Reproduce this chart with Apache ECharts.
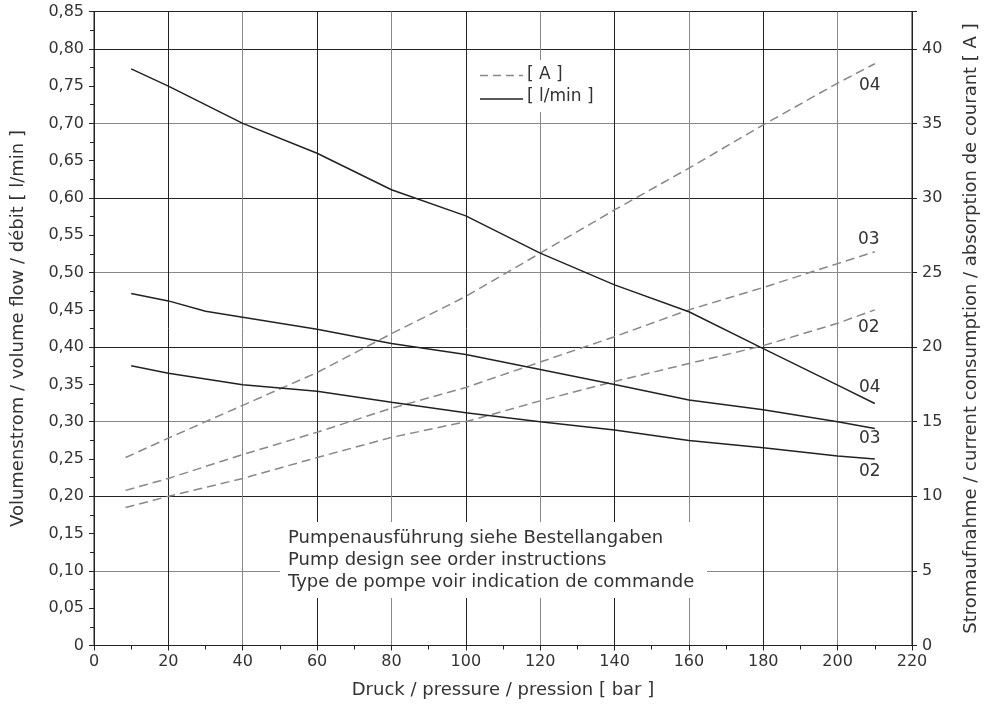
<!DOCTYPE html>
<html>
<head>
<meta charset="utf-8">
<script src="https://cdn.jsdelivr.net/npm/echarts@6/dist/echarts.min.js"></script>
<style>
html,body{margin:0;padding:0;background:#fff;}
#chart{width:985px;height:706px;}
</style>
</head>
<body>
<div id="chart"></div>
<script>
// ---- data ----
const flowX = [10, 20, 40, 60, 80, 100, 120, 140, 160, 180, 200, 210];
const flow03X = [10, 20, 30, 40, 60, 80, 100, 120, 140, 160, 180, 200, 210];
const flow04 = [0.773, 0.750, 0.700, 0.660, 0.611, 0.576, 0.526, 0.4835, 0.4475, 0.398, 0.349, 0.3245];
const flow03 = [0.472, 0.462, 0.448, 0.440, 0.424, 0.405, 0.390, 0.370, 0.350, 0.329, 0.316, 0.300, 0.291];
const flow02 = [0.375, 0.365, 0.3495, 0.341, 0.326, 0.312, 0.300, 0.289, 0.275, 0.265, 0.254, 0.250];
const currentX = [8.5, 20, 40, 60, 80, 100, 120, 140, 160, 180, 200, 210];
const current04 = [12.6, 13.9, 16.1, 18.3, 20.9, 23.4, 26.3, 29.2, 32.0, 34.9, 37.7, 39.0];
const current03 = [10.4, 11.2, 12.8, 14.3, 15.9, 17.3, 19.0, 20.7, 22.5, 24.0, 25.6, 26.4];
const current02 = [9.25, 10.0, 11.2, 12.6, 13.95, 15.0, 16.4, 17.7, 18.9, 20.1, 21.6, 22.5];
const curveLabels = ['04', '03', '02'];
const xTitle = 'Druck / pressure / pression [ bar ]';
const yLeftTitle = 'Volumenstrom / volume flow / débit [ l/min ]';
const yRightTitle = 'Stromaufnahme / current consumption / absorption de courant [ A ]';
const legendA = '[ A ]';
const legendFlow = '[ l/min ]';
const noteLines = ['Pumpenausführung siehe Bestellangaben', 'Pump design see order instructions', 'Type de pompe voir indication de commande'];

const FONT = 'DejaVu Sans';
const TXT = '#333';
const DARK = '#222';
const GRAY = '#888';
const T = 'rgba(0,0,0,0)';

function zip(xs, ys) { return xs.map((x, i) => [x, ys[i]]); }

function labelPoint(data, text, offset) {
  const last = data[data.length - 1];
  return {
    symbol: 'circle', symbolSize: 1, silent: true, animation: false,
    itemStyle: { color: T },
    label: { show: true, position: 'inside', formatter: text, color: TXT, fontSize: 17, fontFamily: FONT, offset: offset },
    data: [{ coord: last }]
  };
}

const d04 = zip(currentX, current04), d03 = zip(currentX, current03), d02 = zip(currentX, current02);
const f04 = zip(flowX, flow04), f03 = zip(flow03X, flow03), f02 = zip(flowX, flow02);

const dashedStyle = { color: GRAY, width: 1.5, type: [9, 5] };
const solidStyle = { color: DARK, width: 1.5 };

function mkSeries(data, yIdx, style, mp) {
  return { type: 'line', data: data, yAxisIndex: yIdx, showSymbol: false, symbol: 'none',
    lineStyle: style, itemStyle: { color: style.color }, animation: false, silent: true, z: 5, markPoint: mp };
}

const chart = echarts.init(document.getElementById('chart'), null, { renderer: 'canvas' });
chart.setOption({
  backgroundColor: '#fff',
  animation: false,
  grid: { left: 94, top: 11.5, width: 818, height: 634, show: true, borderColor: DARK, borderWidth: 1,
    containLabel: false, outerBoundsMode: 'none' },
  xAxis: {
    type: 'value', min: 0, max: 220, interval: 20,
    name: xTitle, nameLocation: 'middle', nameGap: 36,
    nameTextStyle: { color: TXT, fontSize: 18, fontFamily: FONT },
    axisLine: { show: true, lineStyle: { color: DARK, width: 1 } },
    axisTick: { show: true, inside: false, length: 5, lineStyle: { color: DARK } },
    minorTick: { show: true, splitNumber: 2, length: 4, lineStyle: { color: DARK } },
    axisLabel: { color: TXT, fontSize: 16, fontFamily: FONT, margin: 8 },
    splitLine: { show: true, lineStyle: { color: [GRAY, DARK], width: 1 } }
  },
  yAxis: [
    {
      type: 'value', min: 0, max: 0.85, interval: 0.05, position: 'left',
      name: yLeftTitle, nameLocation: 'middle', nameGap: 67,
      nameTextStyle: { color: TXT, fontSize: 18, fontFamily: FONT },
      axisLine: { show: true, lineStyle: { color: DARK } },
      axisTick: { show: true, inside: false, length: 5, lineStyle: { color: DARK } },
      minorTick: { show: true, splitNumber: 2, length: 4, lineStyle: { color: DARK } },
      axisLabel: { color: TXT, fontSize: 16, fontFamily: FONT, margin: 10,
        formatter: v => v === 0 ? '0' : v.toFixed(2).replace('.', ',') },
      splitLine: { show: true, lineStyle: { color: [DARK, T, GRAY, T], width: 1 } }
    },
    {
      type: 'value', min: 0, max: 42.5, interval: 5, position: 'right',
      name: yRightTitle, nameLocation: 'middle', nameGap: 50, nameRotate: 90,
      nameTextStyle: { color: TXT, fontSize: 18, fontFamily: FONT },
      axisLine: { show: true, lineStyle: { color: DARK } },
      axisTick: { show: true, inside: false, length: 5, lineStyle: { color: DARK } },
      axisLabel: { color: TXT, fontSize: 16, fontFamily: FONT, margin: 10,
        formatter: v => v > 41 ? '' : String(v) },
      splitLine: { show: false }
    }
  ],
  series: [
    mkSeries(d04, 1, dashedStyle, labelPoint(d04, curveLabels[0], [-5, 22])),
    mkSeries(d03, 1, dashedStyle, labelPoint(d03, curveLabels[1], [-6, -12])),
    mkSeries(d02, 1, dashedStyle, labelPoint(d02, curveLabels[2], [-6, 18])),
    mkSeries(f04, 0, solidStyle, labelPoint(f04, curveLabels[0], [-5, -16])),
    mkSeries(f03, 0, solidStyle, labelPoint(f03, curveLabels[1], [-5, 10])),
    mkSeries(f02, 0, solidStyle, labelPoint(f02, curveLabels[2], [-5, 13]))
  ],
  graphic: [
    { type: 'rect', z: 100, silent: true, shape: { x: 477, y: 60, width: 126, height: 52 }, style: { fill: '#fff' } },
    { type: 'line', z: 101, silent: true, shape: { x1: 480, y1: 75.5, x2: 523, y2: 75.5 }, style: { stroke: GRAY, lineWidth: 1.5, lineDash: [8, 5] } },
    { type: 'line', z: 101, silent: true, shape: { x1: 480, y1: 99, x2: 523, y2: 99 }, style: { stroke: DARK, lineWidth: 1.5 } },
    { type: 'text', z: 101, silent: true, x: 527, y: 75, style: { text: legendA, fill: TXT, fontSize: 17, fontFamily: FONT, verticalAlign: 'middle' } },
    { type: 'text', z: 101, silent: true, x: 527, y: 97, style: { text: legendFlow, fill: TXT, fontSize: 17, fontFamily: FONT, verticalAlign: 'middle' } },
    { type: 'rect', z: 100, silent: true, shape: { x: 280, y: 522, width: 427, height: 76 }, style: { fill: '#fff' } },
    { type: 'text', z: 101, silent: true, x: 288, y: 538, style: { text: noteLines[0], fill: TXT, fontSize: 18, fontFamily: FONT, verticalAlign: 'middle' } },
    { type: 'text', z: 101, silent: true, x: 288, y: 560, style: { text: noteLines[1], fill: TXT, fontSize: 18, fontFamily: FONT, verticalAlign: 'middle' } },
    { type: 'text', z: 101, silent: true, x: 288, y: 582, style: { text: noteLines[2], fill: TXT, fontSize: 18, fontFamily: FONT, verticalAlign: 'middle' } }
  ]
});
</script>
</body>
</html>
